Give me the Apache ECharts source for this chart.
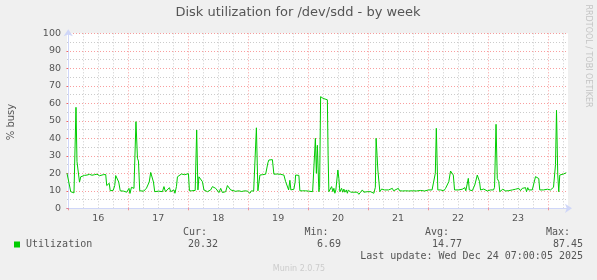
<!DOCTYPE html>
<html>
<head>
<meta charset="utf-8">
<script src="https://cdn.jsdelivr.net/npm/echarts@6/dist/echarts.min.js"></script>
<style>
html,body{margin:0;padding:0;background:#f0f0f0;}
#c{width:597px;height:280px;}
</style>
</head>
<body>
<div id="c"></div>
<script>
// ---- data (hours since Dec 16 00:00, % busy) ----
const titleText = 'Disk utilization for /dev/sdd - by week';
const yAxisName = '% busy';
const dayLabels = ['16', '17', '18', '19', '20', '21', '22', '23'];
const yTickLabels = [0, 10, 20, 30, 40, 50, 60, 70, 80, 90, 100];
const seriesName = 'Utilization';
const statLabels = ['Cur:', 'Min:', 'Avg:', 'Max:'];
const statValues = ['20.32', '6.69', '14.77', '87.45'];
const lastUpdate = 'Last update: Wed Dec 24 07:00:05 2025';
const utilization = [
[-0.5,20],[0,19.5],[1.0,9.5],[1.7,10.5],[2.3,8.8],[2.8,9],[3.1,57.7],[3.5,26.7],[4.1,26],[4.5,15],[5.0,18],[5.7,18.5],
[6.5,18.8],[7.5,19],[8.5,19.4],[9.5,18.9],[10.5,19.2],[11.5,19.5],[12.5,18.6],[13.3,19.6],[14.0,19.2],[14.6,20],[15.0,19.3],
[15.4,13],[16.0,12],[16.4,14.3],[16.8,10],[17.4,10.5],[18.0,10.3],[18.6,13],[19.0,18.7],[19.8,19],[20.2,15],[20.8,10],
[21.4,10.2],[22.2,9.8],[22.6,10],[23.4,9.2],[24.3,11.4],[24.7,8.5],[25.3,12],[25.8,11],[26.3,11.4],[27.1,49.5],[27.7,28.6],
[28.1,27],[28.6,10],[29.4,10.3],[30.2,9.8],[31.0,10],[31.3,11.5],[31.9,11.2],[32.4,15],[33.0,20.5],[33.4,20.6],[34.1,15],
[34.6,9.5],[35.4,10.2],[36.2,9.8],[37.0,10],[37.7,9.5],[38.3,12.4],[38.9,9.5],[39.7,10],[40.5,11.8],[41.0,9.5],[41.7,9.7],
[42.3,10.5],[42.7,8.6],[43.3,12.4],[43.7,18],[44.3,19],[45.3,19.6],[45.8,18.7],[46.6,19.2],[47.4,19],[48.1,19.8],[48.5,10],
[49.4,10],[50.2,9.8],[50.8,10.2],[51.4,44.7],[51.9,10.5],[52.3,18],[53.0,18.5],[53.7,15.2],[54.3,10.5],[55.0,10],[55.7,9.5],
[56.3,8.6],[57.0,10.5],[57.7,12.4],[58.3,12],[59.0,11.4],[59.7,10.5],[60.3,9],[61.0,11.4],[61.7,9],[62.3,10],[63.0,9.5],
[63.7,13],[64.3,12.8],[65.0,10.5],[65.8,10],[67.0,9.7],[68.2,10],[69.4,9.6],[70.6,10],[71.7,9.8],[72.7,8.6],[73.3,10],
[74.2,9.8],[75.0,10],[75.3,46],[75.9,10],[76.3,9],[76.7,19],[77.7,19.2],[78.3,20.2],[79.0,19.5],[79.4,18.7],[79.9,26],
[80.3,27.6],[81.7,27.8],[82.3,19.5],[83.0,20.3],[83.8,19.6],[85.0,19.4],[85.7,19.8],[86.3,19],[87.0,15.2],[87.7,14.3],
[88.2,10.5],[88.7,16],[89.1,10.5],[89.7,10.9],[90.3,10.9],[90.8,15],[91.0,19],[91.8,19],[92.3,18.8],[92.7,10],[93.7,10],
[95.0,10],[96.2,9.8],[97.0,10],[97.8,9.5],[98.6,8.6],[98.9,40],[99.3,20],[99.7,36],[100.3,9.5],[100.6,12],[101.0,63.8],
[101.7,63.5],[102.0,62.8],[102.6,62.3],[103.7,62],[104.0,30],[104.3,9.5],[105.0,8.6],[105.4,12.4],[105.9,9.5],[106.3,11.4],
[106.7,8.6],[107.1,10.5],[107.9,21.9],[108.3,17.1],[108.7,9.5],[109.0,8.6],[109.4,11.4],[109.8,9.2],[110.3,11],[110.7,9.2],
[111.3,10.5],[111.7,8.6],[112.1,10.5],[112.6,9.5],[113.0,9.2],[113.7,9.9],[114.3,9.2],[115.0,9.9],[115.7,9.2],[116.3,8.0],
[117.0,9.2],[117.7,10.5],[118.3,9.2],[119.0,9.9],[119.7,9.5],[120.3,9.2],[121.0,9.5],[121.7,9.2],[122.3,8.6],[122.9,12],
[123.2,40],[123.6,30],[123.9,21.9],[124.2,21],[124.7,9.5],[125.0,8.6],[125.4,11],[126.1,10],[126.6,10.5],[127.4,10],
[128.2,10.5],[129.0,10.2],[129.7,11.4],[130.2,10],[131.0,10.5],[132.1,11.4],[132.6,10],[133.8,9.9],[135.0,10],[136.2,9.9],
[137.8,10],[139.4,9.9],[141.0,10.2],[142.6,9.9],[144.2,10.5],[145.0,9.5],[145.6,10.5],[146.3,11.4],[146.9,20],[147.3,45.7],
[147.9,10.5],[149.0,10.5],[149.7,11],[150.3,10],[151.0,11.4],[151.7,11.4],[152.3,15.2],[153.0,21.3],[153.7,21.3],[154.1,19],
[154.6,10.5],[155.4,10.5],[156.2,10.5],[157.0,9.9],[157.7,10.9],[158.3,10.5],[158.7,11.8],[159.1,10],[159.7,10.5],[160.1,17.1],
[160.5,10.5],[161.0,10.1],[161.7,10.1],[162.3,11],[162.7,13.3],[163.3,14.3],[163.7,19],[164.1,19.4],[164.6,15.2],[165.0,10.5],
[165.7,10.5],[166.3,11],[167.0,10.5],[167.7,9.9],[168.3,10.9],[169.0,10.5],[169.7,10.9],[170.2,10.5],[170.6,12],[171.2,48],
[171.7,17],[172.3,15.2],[172.7,9.5],[173.3,10.5],[173.9,10.9],[174.6,10.5],[175.1,9.9],[175.7,10.5],[176.3,10.1],[177.0,10.9],
[177.7,10.5],[178.3,9.5],[179.0,10.9],[179.7,10.1],[180.3,11.4],[181.0,10.1],[181.7,11.4],[182.3,10.5],[183.0,11.8],[183.4,9.5],
[183.9,11.8],[184.3,10.5],[185.0,10.9],[185.7,10.5],[186.3,10.9],[187.0,18.1],[187.7,18.7],[188.3,17],[188.7,10.5],[189.4,10.5],
[190.2,10.5],[191.0,10.5],[191.8,10.9],[192.3,10.1],[193.0,10.5],[193.7,11.4],[194.2,12],[195.0,25],[195.4,56],[195.9,19],
[196.3,9.5],[196.7,19],[197.4,19.4],[198.2,19.6],[198.9,20.4],[199.3,20.32]
];

// ---- styling ----
const FONT = 'DejaVu Sans';
const MONO = 'DejaVu Sans Mono';
const TXT = '#555555';
const AXIS = '#cfd6f8';
const MAJOR = 'rgba(240,0,0,0.38)';
const MINOR = 'rgba(140,140,140,0.45)';
const LINE = '#00cc00';

const xGridValues = [];
for (let h = 0; h < 200; h += 6) xGridValues.push(h);
const xGridColors = xGridValues.map(h => (h % 24 === 0 ? MAJOR : MINOR));
const dayStarts = dayLabels.map((d, i) => i * 24).concat([dayLabels.length * 24]);
const dayNoons = dayLabels.map((d, i) => i * 24 + 12);
const yGridColors = [];
for (let i = 0; i <= 20; i++) yGridColors.push(i === 0 ? 'rgba(0,0,0,0)' : (i % 2 === 0 ? MAJOR : MINOR));

const chart = echarts.init(document.getElementById('c'), null, {renderer: 'canvas'});

const G = {left: 67, right: 29, top: 33.3, bottom: 71.7};

const statRight = [207, 328.5, 449, 570];
const valRight = [218, 341, 462, 583];
const graphics = [
  {type: 'text', x: 298, y: 13, style: {text: titleText, font: '13px "' + FONT + '"', fill: TXT, align: 'center', verticalAlign: 'middle'}},
  {type: 'text', x: 11, y: 122, rotation: Math.PI / 2, style: {text: yAxisName, font: '10px "' + FONT + '"', fill: TXT, align: 'center', verticalAlign: 'middle'}},
  {type: 'text', x: 588, y: 56, rotation: -Math.PI / 2, style: {text: 'RRDTOOL / TOBI OETIKER', font: '8px "' + FONT + '"', fill: '#c4c4c4', align: 'center', verticalAlign: 'middle'}},
  {type: 'text', x: 299, y: 268.5, style: {text: 'Munin 2.0.75', font: '8px "' + FONT + '"', fill: '#cccccc', align: 'center', verticalAlign: 'middle'}},
  {type: 'rect', shape: {x: 14, y: 241.5, width: 6, height: 6}, style: {fill: LINE}},
  {type: 'text', x: 26, y: 244.5, style: {text: seriesName, font: '10px "' + MONO + '"', fill: TXT, align: 'left', verticalAlign: 'middle'}},
  {type: 'text', x: 583, y: 256.8, style: {text: lastUpdate, font: '10px "' + MONO + '"', fill: TXT, align: 'right', verticalAlign: 'middle'}}
];
statLabels.forEach((s, i) => {
  graphics.push({type: 'text', x: statRight[i], y: 232.7, style: {text: s, font: '10px "' + MONO + '"', fill: TXT, align: 'right', verticalAlign: 'middle'}});
  graphics.push({type: 'text', x: valRight[i], y: 244.5, style: {text: statValues[i], font: '10px "' + MONO + '"', fill: TXT, align: 'right', verticalAlign: 'middle'}});
});

chart.setOption({
  animation: false,
  backgroundColor: '#f0f0f0',
  grid: Object.assign({show: true, backgroundColor: '#ffffff', borderWidth: 0}, G),
  xAxis: [
    {
      type: 'value', min: -0.5, max: 200,
      axisLine: {show: true, lineStyle: {color: AXIS, width: 1}, symbol: ['none', 'arrow'], symbolSize: [7, 7], symbolOffset: [0, 4]},
      axisTick: {show: false, customValues: xGridValues},
      axisLabel: {show: false, customValues: xGridValues},
      splitLine: {show: true, lineStyle: {color: xGridColors, type: [1, 2], width: 1}}
    },
    {
      type: 'value', min: -0.5, max: 200, position: 'bottom',
      axisLine: {show: false},
      axisTick: {show: true, length: 2, customValues: dayStarts, lineStyle: {color: MAJOR}},
      axisLabel: {show: true, customValues: dayNoons, margin: 5, color: TXT, fontFamily: FONT, fontSize: 9.5,
        formatter: v => dayLabels[Math.round((v - 12) / 24)]},
      splitLine: {show: false}
    }
  ],
  yAxis: [
    {
      type: 'value', min: 0, max: 100, interval: 5,
      axisLine: {show: true, lineStyle: {color: AXIS, width: 1}, symbol: ['none', 'arrow'], symbolSize: [7, 7], symbolOffset: [0, 4]},
      axisTick: {show: false},
      axisLabel: {show: false},
      splitLine: {show: true, lineStyle: {color: yGridColors, type: [1, 2], width: 1}}
    },
    {
      type: 'value', min: 0, max: 100, position: 'left',
      axisLine: {show: false},
      axisTick: {show: true, length: 2, customValues: yTickLabels, lineStyle: {color: MAJOR}},
      axisLabel: {show: true, customValues: yTickLabels, margin: 6, color: TXT, fontFamily: FONT, fontSize: 9.5},
      splitLine: {show: false}
    }
  ],
  graphic: graphics,
  series: [{
    name: seriesName, type: 'line', xAxisIndex: 0, yAxisIndex: 0,
    data: utilization, showSymbol: false, symbol: 'none',
    lineStyle: {color: LINE, width: 1}, itemStyle: {color: LINE},
    clip: true, z: 5
  }]
});
</script>
</body>
</html>
